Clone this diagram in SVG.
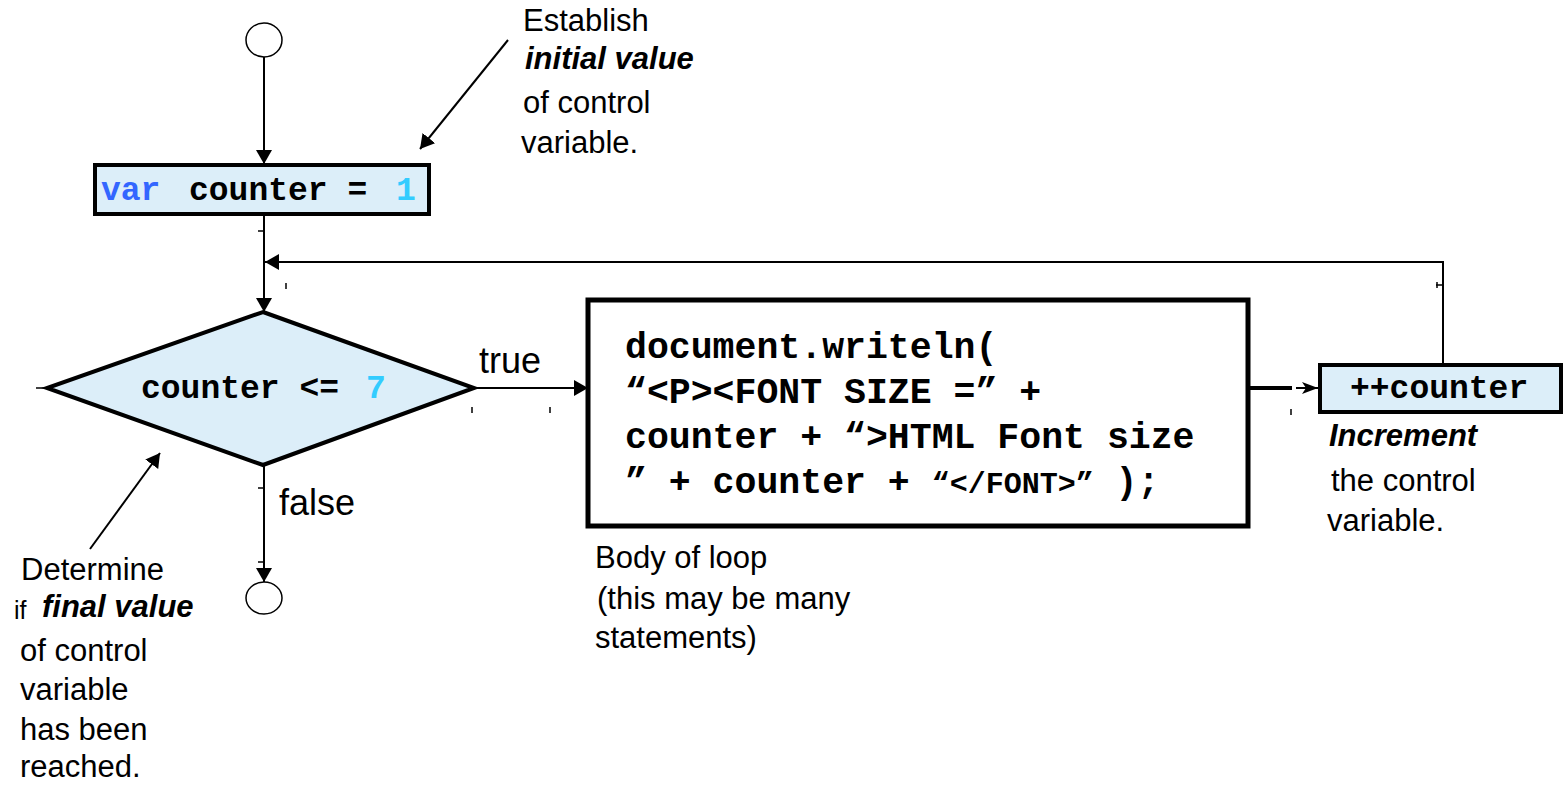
<svg xmlns="http://www.w3.org/2000/svg" width="1566" height="785" viewBox="0 0 1566 785">
  <style>
    .box { fill: #DCEEF9; stroke: #000; stroke-width: 4; }
    .code { font-family: "Liberation Mono", "DejaVu Sans Mono", monospace; font-weight: bold; fill: #000; }
    .label { font-family: "Liberation Sans", Arial, sans-serif; font-size: 31px; fill: #000; }
    .em { font-weight: bold; font-style: italic; }
    .edge { fill: none; stroke: #000; stroke-width: 2; }
    .tick { stroke: #000; stroke-width: 1.5; }
    .kw { fill: #3366FF; }
    .num { fill: #33CCFF; }
  </style>
  <defs>
    <marker id="arrow" viewBox="0 0 14 16" refX="14" refY="8" markerWidth="14" markerHeight="16" markerUnits="userSpaceOnUse" orient="auto">
      <path d="M0,0 L14,8 L0,16 z" fill="#000"/>
    </marker>
    <marker id="arrow-sm" viewBox="0 0 16 12" refX="16" refY="6" markerWidth="16" markerHeight="12" markerUnits="userSpaceOnUse" orient="auto">
      <path d="M0,0 L16,6 L0,12 L4,6 z" fill="#000"/>
    </marker>
  </defs>

  <rect width="1566" height="785" fill="#fff"/>

  <!-- connectors -->
  <g id="connectors">
    <line class="edge" x1="264" y1="57" x2="264" y2="164" marker-end="url(#arrow)"/>
    <line class="edge" x1="264" y1="216" x2="264" y2="312" marker-end="url(#arrow)"/>
    <polyline class="edge" points="1443,363 1443,262 265,262" marker-end="url(#arrow)"/>
    <line class="edge" x1="474" y1="388" x2="588" y2="388" marker-end="url(#arrow)"/>
    <line class="edge" x1="264" y1="466" x2="264" y2="582" marker-end="url(#arrow)"/>
    <line x1="1238" y1="388" x2="1292" y2="388" stroke="#000" stroke-width="4"/>
    <line class="edge" x1="1296" y1="388" x2="1318" y2="388" marker-end="url(#arrow-sm)"/>
    <!-- annotation pointers -->
    <line class="edge" x1="508" y1="40" x2="420" y2="149" marker-end="url(#arrow)"/>
    <line class="edge" x1="90" y1="549" x2="160" y2="453" marker-end="url(#arrow)"/>
    <!-- connector stubs -->
    <line class="tick" x1="258" y1="231" x2="264" y2="231"/>
    <line class="tick" x1="286" y1="283" x2="286" y2="289"/>
    <line class="tick" x1="36" y1="388" x2="47" y2="388"/>
    <line class="tick" x1="472" y1="407" x2="472" y2="413"/>
    <line class="tick" x1="550" y1="407" x2="550" y2="413"/>
    <line class="tick" x1="1239" y1="409" x2="1239" y2="415"/>
    <line class="tick" x1="1291" y1="409" x2="1291" y2="415"/>
    <line class="tick" x1="1436" y1="285" x2="1443" y2="285"/>
    <line class="tick" x1="1437" y1="282" x2="1437" y2="288"/>
    <line class="tick" x1="258" y1="488" x2="264" y2="488"/>
    <line class="tick" x1="258" y1="562" x2="264" y2="562"/>
  </g>

  <!-- start terminal -->
  <g id="start">
    <ellipse cx="264" cy="40" rx="18" ry="17" fill="#fff" stroke="#000" stroke-width="1.5"/>
  </g>

  <!-- initialisation -->
  <g id="init">
    <rect class="box" x="95" y="165" width="334" height="49"/>
    <text class="code" font-size="33" y="200">
      <tspan class="kw" x="101">var</tspan><tspan x="189">counter =</tspan><tspan class="num" x="396">1</tspan>
    </text>
  </g>

  <!-- loop test -->
  <g id="test">
    <polygon class="box" points="263,312 474,388 263,465 47,388"/>
    <text class="code" font-size="33" y="398">
      <tspan x="141">counter &lt;=</tspan><tspan class="num" x="366">7</tspan>
    </text>
  </g>

  <!-- loop body -->
  <g id="body">
    <rect x="588" y="300" width="660" height="226" fill="#fff" stroke="#000" stroke-width="5"/>
    <text class="code" font-size="36.5">
      <tspan x="625" y="358">document.writeln(</tspan>
      <tspan x="625" y="403">“&lt;P&gt;&lt;FONT SIZE =” +</tspan>
      <tspan x="625" y="448">counter + “&gt;HTML Font size</tspan>
      <tspan x="625" y="493">” + counter + <tspan font-size="30">“&lt;/FONT&gt;”</tspan> );</tspan>
    </text>
  </g>

  <!-- increment -->
  <g id="increment">
    <rect class="box" x="1320" y="365" width="241" height="47" stroke-width="5"/>
    <text class="code" font-size="33" x="1350" y="398">++counter</text>
  </g>

  <!-- end terminal -->
  <g id="end">
    <ellipse cx="264" cy="598" rx="18" ry="16" fill="#fff" stroke="#000" stroke-width="1.5"/>
  </g>

  <!-- branch labels -->
  <g id="branch-labels" class="label">
    <text x="479" y="373" style="font-size:36px">true</text>
    <text x="279" y="515" style="font-size:36px">false</text>
  </g>

  <!-- annotations -->
  <g id="note-init" class="label">
    <text x="523" y="31">Establish</text>
    <text x="525" y="69" class="em">initial value</text>
    <text x="523" y="113">of control</text>
    <text x="521" y="153">variable.</text>
  </g>

  <g id="note-test" class="label">
    <text x="21" y="580">Determine</text>
    <text x="14" y="619" style="font-size:25px">if</text>
    <text x="42" y="617" class="em">final value</text>
    <text x="20" y="661">of control</text>
    <text x="20" y="700">variable</text>
    <text x="20" y="740">has been</text>
    <text x="20" y="777">reached.</text>
  </g>

  <g id="note-body" class="label">
    <text x="595" y="568">Body of loop</text>
    <text x="597" y="609">(this may be many</text>
    <text x="595" y="648">statements)</text>
  </g>

  <g id="note-increment" class="label">
    <text x="1329" y="446" class="em">Increment</text>
    <text x="1331" y="491">the control</text>
    <text x="1327" y="531">variable.</text>
  </g>
</svg>
